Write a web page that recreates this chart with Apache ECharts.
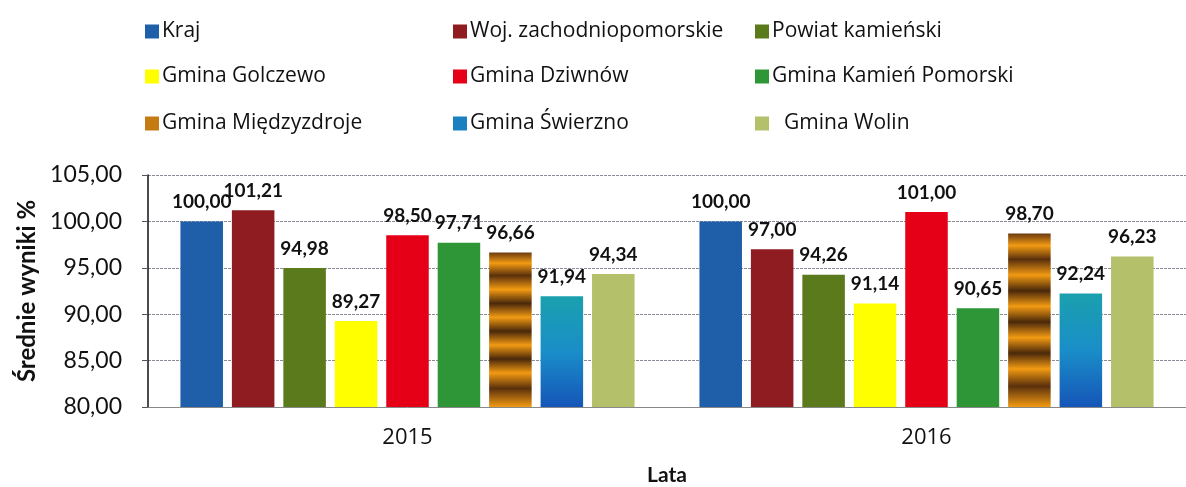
<!DOCTYPE html>
<html><head><meta charset="utf-8">
<script src="https://cdn.jsdelivr.net/npm/echarts@6/dist/echarts.min.js"></script>
<style>html,body{margin:0;padding:0;background:#fff}#c{width:1186px;height:487px}</style>
</head><body><div id="c"></div>
<script>
const categories = ['2015', '2016'];
const seriesNames = ['Kraj', 'Woj. zachodniopomorskie', 'Powiat kamieński', 'Gmina Golczewo', 'Gmina Dziwnów', 'Gmina Kamień Pomorski', 'Gmina Międzyzdroje', 'Gmina Świerzno', 'Gmina Wolin'];
const kraj = [100.00, 100.00];
const woj = [101.21, 97.00];
const powiat = [94.98, 94.26];
const golczewo = [89.27, 91.14];
const dziwnow = [98.50, 101.00];
const kamien = [97.71, 90.65];
const miedzyzdroje = [96.66, 98.70];
const swierzno = [91.94, 92.24];
const wolin = [94.34, 96.23];
const yTicks = [80, 85, 90, 95, 100, 105];

const values = [kraj, woj, powiat, golczewo, dziwnow, kamien, miedzyzdroje, swierzno, wolin];
const stripe = new echarts.graphic.LinearGradient(0, 0, 0, 1, [
  {offset: 0, color: '#6b3a10'}, {offset: 0.07, color: '#f29a12'}, {offset: 0.15, color: '#5a300c'},
  {offset: 0.24, color: '#f29a12'}, {offset: 0.33, color: '#4a280a'}, {offset: 0.42, color: '#f29a12'},
  {offset: 0.51, color: '#4a280a'}, {offset: 0.6, color: '#f29a12'}, {offset: 0.69, color: '#4a280a'},
  {offset: 0.78, color: '#f29a12'}, {offset: 0.88, color: '#5a300c'}, {offset: 1, color: '#f29a12'}]);
const blueGrad = new echarts.graphic.LinearGradient(0, 0, 0, 1, [
  {offset: 0, color: '#1aa0ae'}, {offset: 0.5, color: '#1a8ec8'}, {offset: 1, color: '#1555b8'}]);
const colors = ['#1f5ea8', '#8e1c20', '#5b7a1c', '#ffff00', '#e50018', '#2e9636', stripe, blueGrad, '#b4c06a'];
const legendIconColors = ['#1f5ea8', '#8e1c20', '#5b7a1c', '#ffff00', '#e50018', '#2e9636', '#c57a12', '#1a80c0', '#b4c06a'];

const fmt = v => v.toFixed(2).replace('.', ',');
const legendPos = [[140, 16], [448, 16], [750, 16], [140, 61], [448, 61], [750, 61], [140, 108], [448, 108], [750, 108]];
const legends = seriesNames.map((n, i) => ({
  data: [{name: n, itemStyle: {color: legendIconColors[i]}}],
  left: legendPos[i][0], top: legendPos[i][1],
  itemWidth: 14, itemHeight: 14, itemGap: 0, icon: 'rect',
  textStyle: {fontFamily: 'Open Sans', fontSize: 21, color: '#111', padding: [0, 0, 0, i === 8 ? 10 : -2]},
  selectedMode: false
}));

const chart = echarts.init(document.getElementById('c'), null, {renderer: 'canvas'});
chart.setOption({
  animation: false,
  legend: legends,
  grid: {left: 148, top: 175, height: 232, width: 1050, containLabel: false},
  xAxis: {
    type: 'category', data: categories,
    name: 'Lata', nameLocation: 'middle', nameGap: 58,
    nameTextStyle: {fontFamily: 'Lato', fontWeight: 'bold', fontSize: 21, color: '#111'},
    axisLine: {lineStyle: {color: '#888', width: 1}},
    axisTick: {show: false},
    axisLabel: {fontFamily: 'Open Sans', fontSize: 22, color: '#111', margin: 20}
  },
  yAxis: {
    type: 'value', min: 80, max: 105, interval: 5,
    name: 'Średnie wyniki %', nameLocation: 'middle', nameGap: 108,
    nameTextStyle: {fontFamily: 'Lato', fontWeight: 'bold', fontSize: 24, color: '#111'},
    axisLine: {show: true, lineStyle: {color: '#111', width: 1.5}},
    axisTick: {show: true, length: 6, lineStyle: {color: '#555'}},
    axisLabel: {fontFamily: 'Lato', fontSize: 23, color: '#111', margin: 26,
      formatter: v => yTicks.includes(v) ? fmt(v) : ''},
    splitLine: {lineStyle: {color: '#8a8a98', width: 1.2, type: [3, 1]}}
  },
  series: seriesNames.map((n, i) => ({
    name: n, type: 'bar', data: values[i],
    barGap: '21%', barCategoryGap: '12.5%',
    itemStyle: {color: colors[i]},
    label: {show: true, position: 'top', distance: 10, formatter: p => fmt(p.value),
      fontFamily: 'Lato', fontWeight: 'bold', fontSize: 19, color: '#111'}
  }))
});
</script></body></html>
